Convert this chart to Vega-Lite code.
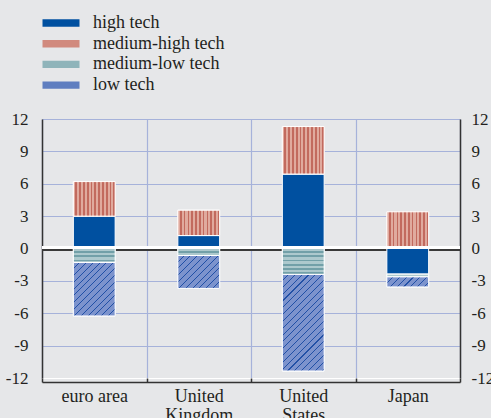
{
  "$schema": "https://vega.github.io/schema/vega-lite/v6.json",
  "width": 418,
  "height": 259,
  "autosize": {"type": "none"},
  "padding": {"left": 42, "top": 119, "right": 31, "bottom": 40},
  "background": "#e6e7e9",
  "config": {"view": {"stroke": null}, "font": "Liberation Serif"},
  "params": [
    {"name": "sMH", "expr": "[{offset:0,color:'#e0aa9e'},{offset:0.05,color:'#e0aa9e'},{offset:0.05,color:'#c26a5e'},{offset:0.0909,color:'#c26a5e'},{offset:0.0909,color:'#e0aa9e'},{offset:0.1409,color:'#e0aa9e'},{offset:0.1409,color:'#c26a5e'},{offset:0.1818,color:'#c26a5e'},{offset:0.1818,color:'#e0aa9e'},{offset:0.2318,color:'#e0aa9e'},{offset:0.2318,color:'#c26a5e'},{offset:0.2727,color:'#c26a5e'},{offset:0.2727,color:'#e0aa9e'},{offset:0.3227,color:'#e0aa9e'},{offset:0.3227,color:'#c26a5e'},{offset:0.3636,color:'#c26a5e'},{offset:0.3636,color:'#e0aa9e'},{offset:0.4136,color:'#e0aa9e'},{offset:0.4136,color:'#c26a5e'},{offset:0.4545,color:'#c26a5e'},{offset:0.4545,color:'#e0aa9e'},{offset:0.5045,color:'#e0aa9e'},{offset:0.5045,color:'#c26a5e'},{offset:0.5455,color:'#c26a5e'},{offset:0.5455,color:'#e0aa9e'},{offset:0.5955,color:'#e0aa9e'},{offset:0.5955,color:'#c26a5e'},{offset:0.6364,color:'#c26a5e'},{offset:0.6364,color:'#e0aa9e'},{offset:0.6864,color:'#e0aa9e'},{offset:0.6864,color:'#c26a5e'},{offset:0.7273,color:'#c26a5e'},{offset:0.7273,color:'#e0aa9e'},{offset:0.7773,color:'#e0aa9e'},{offset:0.7773,color:'#c26a5e'},{offset:0.8182,color:'#c26a5e'},{offset:0.8182,color:'#e0aa9e'},{offset:0.8682,color:'#e0aa9e'},{offset:0.8682,color:'#c26a5e'},{offset:0.9091,color:'#c26a5e'},{offset:0.9091,color:'#e0aa9e'},{offset:0.9591,color:'#e0aa9e'},{offset:0.9591,color:'#c26a5e'},{offset:1,color:'#c26a5e'}]"},
    {"name": "sML", "expr": "[{offset:0,color:'#adc9cd'},{offset:0.0857,color:'#adc9cd'},{offset:0.0857,color:'#72a0a8'},{offset:0.1429,color:'#72a0a8'},{offset:0.1429,color:'#adc9cd'},{offset:0.2286,color:'#adc9cd'},{offset:0.2286,color:'#72a0a8'},{offset:0.2857,color:'#72a0a8'},{offset:0.2857,color:'#adc9cd'},{offset:0.3714,color:'#adc9cd'},{offset:0.3714,color:'#72a0a8'},{offset:0.4286,color:'#72a0a8'},{offset:0.4286,color:'#adc9cd'},{offset:0.5143,color:'#adc9cd'},{offset:0.5143,color:'#72a0a8'},{offset:0.5714,color:'#72a0a8'},{offset:0.5714,color:'#adc9cd'},{offset:0.6571,color:'#adc9cd'},{offset:0.6571,color:'#72a0a8'},{offset:0.7143,color:'#72a0a8'},{offset:0.7143,color:'#adc9cd'},{offset:0.8,color:'#adc9cd'},{offset:0.8,color:'#72a0a8'},{offset:0.8571,color:'#72a0a8'},{offset:0.8571,color:'#adc9cd'},{offset:0.9429,color:'#adc9cd'},{offset:0.9429,color:'#72a0a8'},{offset:1,color:'#72a0a8'}]"},
    {"name": "sLT", "expr": "[{offset:0,color:'#7c93cd'},{offset:0.0386,color:'#7c93cd'},{offset:0.0386,color:'#2150a6'},{offset:0.0455,color:'#2150a6'},{offset:0.0455,color:'#7c93cd'},{offset:0.0841,color:'#7c93cd'},{offset:0.0841,color:'#2150a6'},{offset:0.0909,color:'#2150a6'},{offset:0.0909,color:'#7c93cd'},{offset:0.1295,color:'#7c93cd'},{offset:0.1295,color:'#2150a6'},{offset:0.1364,color:'#2150a6'},{offset:0.1364,color:'#7c93cd'},{offset:0.175,color:'#7c93cd'},{offset:0.175,color:'#2150a6'},{offset:0.1818,color:'#2150a6'},{offset:0.1818,color:'#7c93cd'},{offset:0.2204,color:'#7c93cd'},{offset:0.2204,color:'#2150a6'},{offset:0.2273,color:'#2150a6'},{offset:0.2273,color:'#7c93cd'},{offset:0.2659,color:'#7c93cd'},{offset:0.2659,color:'#2150a6'},{offset:0.2727,color:'#2150a6'},{offset:0.2727,color:'#7c93cd'},{offset:0.3113,color:'#7c93cd'},{offset:0.3113,color:'#2150a6'},{offset:0.3182,color:'#2150a6'},{offset:0.3182,color:'#7c93cd'},{offset:0.3568,color:'#7c93cd'},{offset:0.3568,color:'#2150a6'},{offset:0.3636,color:'#2150a6'},{offset:0.3636,color:'#7c93cd'},{offset:0.4022,color:'#7c93cd'},{offset:0.4022,color:'#2150a6'},{offset:0.4091,color:'#2150a6'},{offset:0.4091,color:'#7c93cd'},{offset:0.4477,color:'#7c93cd'},{offset:0.4477,color:'#2150a6'},{offset:0.4545,color:'#2150a6'},{offset:0.4545,color:'#7c93cd'},{offset:0.4931,color:'#7c93cd'},{offset:0.4931,color:'#2150a6'},{offset:0.5,color:'#2150a6'},{offset:0.5,color:'#7c93cd'},{offset:0.5386,color:'#7c93cd'},{offset:0.5386,color:'#2150a6'},{offset:0.5455,color:'#2150a6'},{offset:0.5455,color:'#7c93cd'},{offset:0.5841,color:'#7c93cd'},{offset:0.5841,color:'#2150a6'},{offset:0.5909,color:'#2150a6'},{offset:0.5909,color:'#7c93cd'},{offset:0.6295,color:'#7c93cd'},{offset:0.6295,color:'#2150a6'},{offset:0.6364,color:'#2150a6'},{offset:0.6364,color:'#7c93cd'},{offset:0.675,color:'#7c93cd'},{offset:0.675,color:'#2150a6'},{offset:0.6818,color:'#2150a6'},{offset:0.6818,color:'#7c93cd'},{offset:0.7204,color:'#7c93cd'},{offset:0.7204,color:'#2150a6'},{offset:0.7273,color:'#2150a6'},{offset:0.7273,color:'#7c93cd'},{offset:0.7659,color:'#7c93cd'},{offset:0.7659,color:'#2150a6'},{offset:0.7727,color:'#2150a6'},{offset:0.7727,color:'#7c93cd'},{offset:0.8113,color:'#7c93cd'},{offset:0.8113,color:'#2150a6'},{offset:0.8182,color:'#2150a6'},{offset:0.8182,color:'#7c93cd'},{offset:0.8568,color:'#7c93cd'},{offset:0.8568,color:'#2150a6'},{offset:0.8636,color:'#2150a6'},{offset:0.8636,color:'#7c93cd'},{offset:0.9022,color:'#7c93cd'},{offset:0.9022,color:'#2150a6'},{offset:0.9091,color:'#2150a6'},{offset:0.9091,color:'#7c93cd'},{offset:0.9477,color:'#7c93cd'},{offset:0.9477,color:'#2150a6'},{offset:0.9545,color:'#2150a6'},{offset:0.9545,color:'#7c93cd'},{offset:0.9931,color:'#7c93cd'},{offset:0.9931,color:'#2150a6'},{offset:1,color:'#2150a6'}]"}
  ],
  "data": {
    "values": [
      {"country": "euro area", "type": "high tech", "rank": 1, "value": 3.0},
      {"country": "euro area", "type": "medium-high tech", "rank": 2, "value": 3.2},
      {"country": "euro area", "type": "medium-low tech", "rank": 3, "value": -1.3},
      {"country": "euro area", "type": "low tech", "rank": 4, "value": -4.95},
      {"country": "United Kingdom", "type": "high tech", "rank": 1, "value": 1.2},
      {"country": "United Kingdom", "type": "medium-high tech", "rank": 2, "value": 2.35},
      {"country": "United Kingdom", "type": "medium-low tech", "rank": 3, "value": -0.65},
      {"country": "United Kingdom", "type": "low tech", "rank": 4, "value": -3.05},
      {"country": "United States", "type": "high tech", "rank": 1, "value": 6.9},
      {"country": "United States", "type": "medium-high tech", "rank": 2, "value": 4.4},
      {"country": "United States", "type": "medium-low tech", "rank": 3, "value": -2.4},
      {"country": "United States", "type": "low tech", "rank": 4, "value": -8.95},
      {"country": "Japan", "type": "high tech", "rank": 1, "value": -2.38},
      {"country": "Japan", "type": "medium-high tech", "rank": 2, "value": 3.4},
      {"country": "Japan", "type": "medium-low tech", "rank": 3, "value": -0.25},
      {"country": "Japan", "type": "low tech", "rank": 4, "value": -0.93}
    ]
  },
  "transform": [
    {"stack": "value", "groupby": ["country"], "sort": [{"field": "rank", "order": "ascending"}], "as": ["v0", "v1"]}
  ],
  "resolve": {"axis": {"y": "independent"}},
  "layer": [
    {
      "mark": {"type": "rule", "color": "#3a3a3a", "strokeWidth": 1.5, "yOffset": 1.5},
      "encoding": {
        "y": {"datum": 0, "type": "quantitative", "scale": {"domain": [-12, 12], "nice": false}, "axis": null}
      }
    },
    {
      "mark": {"type": "bar", "stroke": "white", "strokeWidth": 1, "width": {"band": 0.4}},
      "encoding": {
        "x": {
          "field": "country",
          "type": "nominal",
          "sort": ["euro area", "United Kingdom", "United States", "Japan"],
          "scale": {"paddingInner": 0, "paddingOuter": 0},
          "axis": {
            "title": null,
            "orient": "bottom",
            "offset": 4,
            "domainColor": "#333333",
            "domainWidth": 1.5,
            "ticks": true,
            "tickBand": "extent",
            "tickSize": -4,
            "tickColor": "#333333",
            "tickWidth": 1.5,
            "grid": true,
            "gridColor": "#a6b2da",
            "gridWidth": 1.2,
            "labelFont": "Liberation Serif",
            "labelFontSize": 18,
            "labelColor": "#231f20",
            "labelPadding": 9,
            "labelAngle": 0,
            "labelLineHeight": 19,
            "labelExpr": "datum.label == 'euro area' ? datum.label : split(datum.label, ' ')"
          }
        },
        "y": {
          "field": "v1",
          "type": "quantitative",
          "scale": {"domain": [-12, 12], "nice": false},
          "axis": {
            "title": null,
            "orient": "left",
            "values": [-12, -9, -6, -3, 0, 3, 6, 9, 12],
            "domainColor": "#333333",
            "domainWidth": 1.5,
            "ticks": false,
            "grid": true,
            "gridColor": {"condition": {"test": "datum.value == -12", "value": "#ffffff"}, "value": "#a6b2da"},
            "gridWidth": 1.2,
            "labelFont": "Liberation Serif",
            "labelFontSize": 17,
            "labelColor": "#231f20",
            "labelPadding": 14,
            "labelExpr": "datum.value < 0 ? '-' + abs(datum.value) : '' + datum.value"
          }
        },
        "y2": {"field": "v0"},
        "color": {
          "field": "type",
          "type": "nominal",
          "sort": ["high tech", "medium-high tech", "medium-low tech", "low tech"],
          "scale": {
            "domain": ["high tech", "medium-high tech", "medium-low tech", "low tech"],
            "range": ["#0050a0", "#d18a7e", "#8fb4ba", "#5f7ec0"]
          },
          "legend": {
            "orient": "none",
            "legendX": 9,
            "legendY": -106,
            "title": null,
            "symbolType": "M-2,-0.4H2V0.4H-2Z",
            "symbolSize": 342,
            "symbolStrokeColor": "white",
            "symbolStrokeWidth": 1,
            "rowPadding": 1.7,
            "labelFont": "Liberation Serif",
            "labelFontSize": 18,
            "labelColor": "#231f20",
            "labelOffset": 22,
            "encode": {
              "symbols": {
                "update": {
                  "fill": {"signal": "datum.value == 'medium-high tech' ? {gradient:'linear',x1:0,y1:0,x2:1,y2:0,stops:sMH} : datum.value == 'medium-low tech' ? {gradient:'linear',x1:0,y1:0,x2:0,y2:4,stops:sML} : datum.value == 'low tech' ? {gradient:'linear',x1:0,y1:0,x2:3.9,y2:0.78,stops:sLT} : '#0050a0'"}
                }
              }
            }
          }
        }
      }
    },
    {
      "transform": [{"filter": "datum.type == 'medium-high tech'"}],
      "mark": {"type": "bar", "stroke": "white", "strokeWidth": 1, "width": {"band": 0.4}, "fill": {"expr": "{gradient:'linear',x1:0,y1:0,x2:1,y2:0,stops:sMH}"}},
      "encoding": {
        "x": {"field": "country", "type": "nominal", "sort": ["euro area", "United Kingdom", "United States", "Japan"]},
        "y": {"field": "v1", "type": "quantitative", "axis": null},
        "y2": {"field": "v0"}
      }
    },
    {
      "transform": [{"filter": "datum.type == 'medium-low tech'"}],
      "mark": {"type": "bar", "stroke": "white", "strokeWidth": 1, "width": {"band": 0.4}, "fill": {"expr": "{gradient:'linear',x1:0,y1:0,x2:0,y2:30/max(1,abs(datum.v1-datum.v0)*259/24),stops:sML}"}},
      "encoding": {
        "x": {"field": "country", "type": "nominal", "sort": ["euro area", "United Kingdom", "United States", "Japan"]},
        "y": {"field": "v1", "type": "quantitative", "axis": null},
        "y2": {"field": "v0"}
      }
    },
    {
      "transform": [{"filter": "datum.type == 'low tech'"}],
      "mark": {"type": "bar", "stroke": "white", "strokeWidth": 1, "width": {"band": 0.4}, "fill": {"expr": "{gradient:'linear',x1:0,y1:0,x2:(150/41.8)/(1+pow(abs(datum.v1-datum.v0)*259/24/41.8,2)),y2:(150/41.8)/(1+pow(abs(datum.v1-datum.v0)*259/24/41.8,2))*abs(datum.v1-datum.v0)*259/24/41.8,stops:sLT}"}},
      "encoding": {
        "x": {"field": "country", "type": "nominal", "sort": ["euro area", "United Kingdom", "United States", "Japan"]},
        "y": {"field": "v1", "type": "quantitative", "axis": null},
        "y2": {"field": "v0"}
      }
    },
    {
      "mark": {"type": "rule", "color": "#ffffff", "strokeWidth": 2, "yOffset": -1},
      "encoding": {
        "y": {
          "datum": 0,
          "type": "quantitative",
          "axis": {
            "title": null,
            "orient": "right",
            "values": [-12, -9, -6, -3, 0, 3, 6, 9, 12],
            "domainColor": "#333333",
            "domainWidth": 1.5,
            "ticks": false,
            "grid": false,
            "labelFont": "Liberation Serif",
            "labelFontSize": 17,
            "labelColor": "#231f20",
            "labelPadding": 11,
            "labelExpr": "datum.value < 0 ? '-' + abs(datum.value) : '' + datum.value",
            "encode": {"labels": {"update": {"dx": {"signal": "datum.value == -12 ? -9 : datum.value < 0 ? -6 : 0"}}}}
          }
        }
      }
    }
  ]
}
